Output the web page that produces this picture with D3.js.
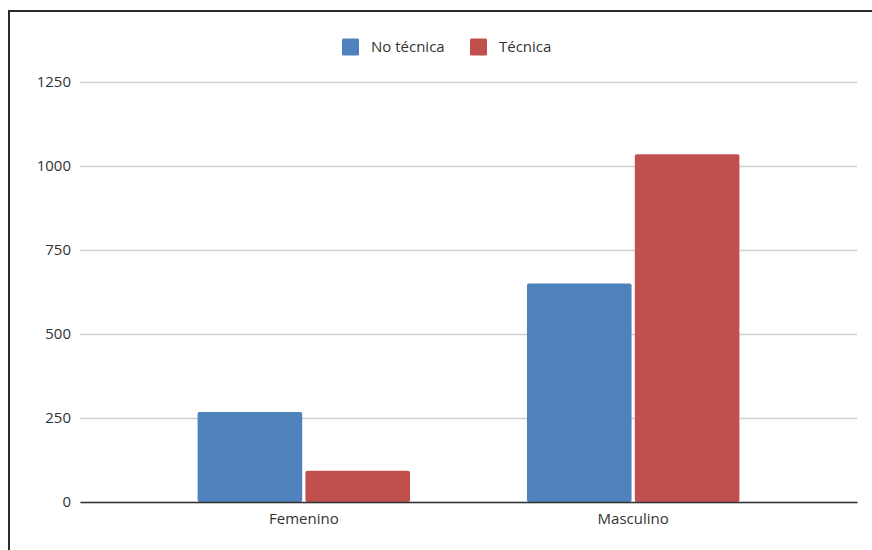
<!DOCTYPE html>
<html><head><meta charset="utf-8">
<script src="https://cdn.jsdelivr.net/npm/d3@7"></script>
<style>body{margin:0;background:#fff}svg{display:block}text{font-family:"Open Sans",sans-serif}</style>
</head><body>
<svg id="c" width="872" height="550"></svg>
<script>
const categories = ["Femenino", "Masculino"];
const seriesNames = ["No técnica", "Técnica"];
const noTecnica = [268, 650];
const tecnica = [93, 1035];
const yTicks = [0, 250, 500, 750, 1000, 1250];
const colors = ["#4f81bd", "#c0504d"];

const svg = d3.select("#c");
const margin = {left: 80, right: 15, top: 82, bottom: 48};
const W = 872, H = 550;
const x0 = d3.scaleBand().domain(categories).range([margin.left, W - margin.right]).paddingInner(0.355).paddingOuter(0.357);
const x1 = d3.scaleBand().domain(seriesNames).range([0, x0.bandwidth()]).paddingInner(0.03);
const y = d3.scaleLinear().domain([0, 1250]).range([502, 82]);

// border
svg.append("path").attr("d", `M9,550 V11 H872`).attr("fill", "none").attr("stroke", "#2b2b2b").attr("stroke-width", 2);

// grid
const gy = svg.append("g").attr("transform", `translate(${margin.left},0)`)
  .call(d3.axisLeft(y).tickValues(yTicks).tickSize(-(W - margin.right - margin.left)).tickPadding(9).tickFormat(d3.format("d")));
gy.select(".domain").remove();
gy.selectAll(".tick line").attr("stroke", "#cfcfcf").attr("stroke-width", 1.3);
gy.selectAll(".tick text").attr("font-size", 15).attr("fill", "#333");

const data = categories.map((c, i) => ({cat: c, vals: [noTecnica[i], tecnica[i]]}));
const g = svg.append("g");
data.forEach(d => {
  d.vals.forEach((v, j) => {
    g.append("rect")
      .attr("x", x0(d.cat) + x1(seriesNames[j]))
      .attr("y", y(v))
      .attr("width", x1.bandwidth())
      .attr("height", y(0) - y(v))
      .attr("rx", 2)
      .attr("fill", colors[j]);
  });
});

// x axis
const gx = svg.append("g").attr("transform", `translate(0,${y(0)})`)
  .call(d3.axisBottom(x0).tickSize(0).tickPadding(11));
gx.select(".domain").attr("stroke", "#333").attr("stroke-width", 1.5);
gx.selectAll(".tick text").attr("font-size", 15).attr("fill", "#333");

// legend
const legX = [342, 470];
seriesNames.forEach((s, j) => {
  svg.append("rect").attr("x", legX[j]).attr("y", 38.5).attr("width", 17).attr("height", 17).attr("rx", 1.5).attr("fill", colors[j]);
  svg.append("text").attr("x", legX[j] + 29).attr("y", 47).attr("dy", "0.35em").attr("font-size", 15).attr("fill", "#333").text(s);
});
</script>
</body></html>
